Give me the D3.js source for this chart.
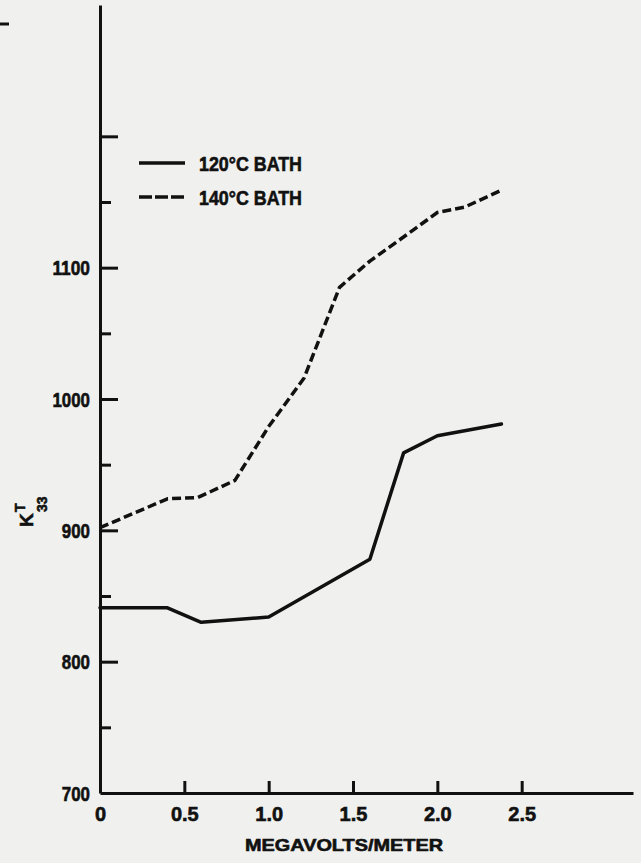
<!DOCTYPE html>
<html>
<head>
<meta charset="utf-8">
<script src="https://cdn.jsdelivr.net/npm/d3@7"></script>
<style>
    body { margin: 0; background: #f0f0ee; }
    svg { display: block; background: #f0f0ee; }
    text { font-family: "Liberation Sans", Arial, sans-serif; font-weight: bold; fill: #111; stroke: #111; stroke-width: 0.6px; }
</style>
</head>
<body>
<div id="chart"></div>
<script>
// 120°C bath (solid)
const bath120X = [0, 0.4, 0.6, 1.0, 1.6, 1.8, 2.0, 2.38];
const bath120Y = [841, 841, 830, 834, 878, 959, 972, 981];

// 140°C bath (dashed)
const bath140X = [0, 0.4, 0.58, 0.8, 1.0, 1.21, 1.42, 1.6, 1.85, 2.0, 2.16, 2.38];
const bath140Y = [902, 924, 925, 938, 979, 1016, 1085, 1105, 1128, 1142, 1146, 1159];

const xTicks = [0, 0.5, 1.0, 1.5, 2.0, 2.5];
const xTickLabels = ["0", "0.5", "1.0", "1.5", "2.0", "2.5"];
const yTicks = [700, 750, 800, 850, 900, 950, 1000, 1050, 1100, 1150, 1200];
const yTickLabels = [700, 800, 900, 1000, 1100];

const seriesNames = ["120°C BATH", "140°C BATH"];

const width = 641;
const height = 863;

const svg = d3.select("#chart")
    .append("svg")
    .attr("width", width)
    .attr("height", height);

const x = d3.scaleLinear().domain([0, 3.16]).range([100, 633]);
const y = d3.scaleLinear().domain([700, 1300]).range([793, 5]);

// stray mark from the scan, top left
svg.append("line")
    .attr("x1", 0).attr("x2", 9)
    .attr("y1", 24).attr("y2", 24)
    .attr("stroke", "#111")
    .attr("stroke-width", 3);

// y axis, ticks point inward
const yAxis = svg.append("g")
    .attr("transform", `translate(${x(0)},0)`)
    .call(d3.axisLeft(y)
        .tickValues(yTicks)
        .tickSizeOuter(0)
        .tickPadding(4)
        .tickFormat(d => yTickLabels.includes(d) ? d : ""));

yAxis.selectAll(".tick line")
    .attr("x2", d => d === 700 ? 0 : (d % 100 === 0 ? 18 : 11))
    .attr("stroke", "#111")
    .attr("stroke-width", 3);
yAxis.select(".domain").attr("stroke-width", 3).attr("stroke", "#111");
yAxis.selectAll("text")
    .style("font-size", "20px")
    .attr("dy", "0.36em")
    .attr("textLength", d => String(d).length * 9.4)
    .attr("lengthAdjust", "spacingAndGlyphs");

// x axis, ticks point up
const xAxis = svg.append("g")
    .attr("transform", `translate(0,${y(700)})`)
    .call(d3.axisBottom(x)
        .tickValues(xTicks)
        .tickSizeOuter(0)
        .tickSizeInner(-12)
        .tickPadding(14)
        .tickFormat((d, i) => xTickLabels[i]));

xAxis.select(".domain").attr("stroke-width", 3).attr("stroke", "#111");
xAxis.selectAll(".tick line")
    .attr("y2", d => d === 0 ? 0 : -12)
    .attr("stroke", "#111")
    .attr("stroke-width", 3);
xAxis.selectAll("text").style("font-size", "20px");

// axis titles
svg.append("text")
    .attr("x", 344)
    .attr("y", 851)
    .attr("text-anchor", "middle")
    .attr("textLength", 198)
    .attr("lengthAdjust", "spacingAndGlyphs")
    .style("font-size", "17px")
    .text("MEGAVOLTS/METER");

const kLabel = svg.append("g")
    .attr("transform", "translate(33,527) rotate(-90)");
kLabel.append("text")
    .attr("x", 0).attr("y", 0)
    .style("font-size", "19px")
    .text("K");
kLabel.append("text")
    .attr("x", 15).attr("y", -8)
    .style("font-size", "14px")
    .text("T");
kLabel.append("text")
    .attr("x", 15).attr("y", 14)
    .style("font-size", "14px")
    .text("33");

// data lines
const line = d3.line()
    .x(d => x(d[0]))
    .y(d => y(d[1]));

svg.append("path")
    .datum(d3.zip(bath120X, bath120Y))
    .attr("d", line)
    .attr("fill", "none")
    .attr("stroke", "#111")
    .attr("stroke-width", 3.5)
    .attr("stroke-linejoin", "round")
    .attr("stroke-linecap", "round");

svg.append("path")
    .datum(d3.zip(bath140X, bath140Y))
    .attr("d", line)
    .attr("fill", "none")
    .attr("stroke", "#111")
    .attr("stroke-width", 3.5)
    .attr("stroke-dasharray", "9,4")
    .attr("stroke-linejoin", "round");

// legend
const legend = svg.append("g").attr("transform", "translate(139,163)");
seriesNames.forEach((name, i) => {
    legend.append("line")
        .attr("x1", 0).attr("x2", 46)
        .attr("y1", i * 34).attr("y2", i * 34)
        .attr("stroke", "#111")
        .attr("stroke-width", 3.5)
        .attr("stroke-dasharray", i === 1 ? "13,3" : null);
    legend.append("text")
        .attr("x", 60)
        .attr("y", i * 34)
        .attr("dy", "0.36em")
        .attr("textLength", 103)
        .attr("lengthAdjust", "spacingAndGlyphs")
        .style("font-size", "21px")
        .text(name);
});
</script>
</body>
</html>
